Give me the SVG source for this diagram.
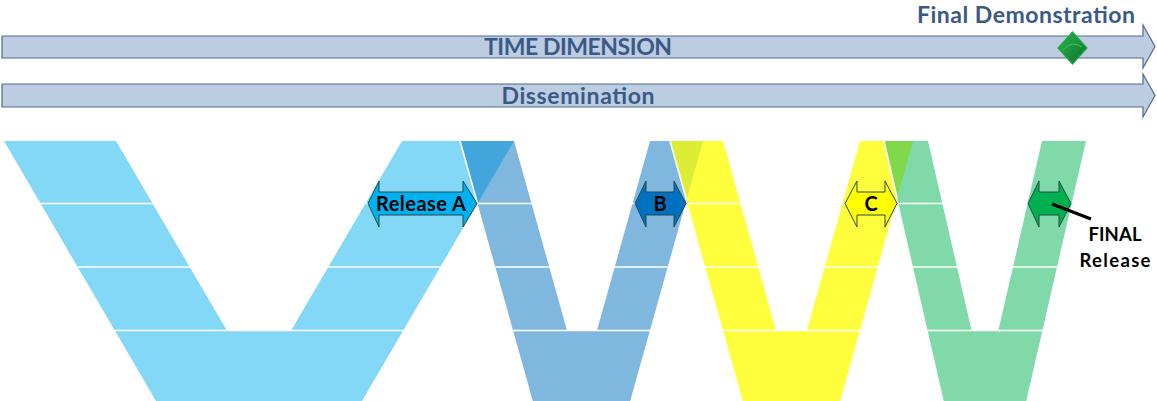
<svg xmlns="http://www.w3.org/2000/svg" width="1157" height="401" viewBox="0 0 1157 401">
<style>
.band{fill:#BCCDE1;stroke:#4F6A8E;stroke-width:1.2}
.ttl{font-family:"Lato","Liberation Sans",sans-serif;font-weight:bold;fill:#3A5A85}
.row{stroke:#FFFFFF;stroke-width:1.6}
.dbl{stroke:#264B4B;stroke-width:1}
.lbl{font-family:"Lato","Liberation Sans",sans-serif;font-weight:bold;fill:#000000;text-anchor:middle}
</style>
<defs>
<linearGradient id="dg" x1="0" y1="0" x2="1" y2="1">
<stop offset="0" stop-color="#2DB84F"/>
<stop offset="1" stop-color="#0B6E2A"/>
</linearGradient>
</defs>
<g id="time-dimension">
<polygon class="band" points="2,36 1143,36 1143,25 1155,46.5 1143,68 1143,58 2,58"/>
<text class="ttl" x="578" y="55" font-size="23" text-anchor="middle" textLength="188">TIME DIMENSION</text>
</g>
<g id="final-demonstration">
<text class="ttl" x="1026" y="23" font-size="23" text-anchor="middle" textLength="218">Final Demonstration</text>
<polygon points="1072.5,32 1087,48 1072.5,64 1058,48" fill="url(#dg)" stroke="#22A84A" stroke-width="1.2"/>
<path d="M1063,50 Q1072,40 1082,47" fill="none" stroke="#4CD06C" stroke-width="1" opacity="0.7"/>
</g>
<g id="dissemination">
<polygon class="band" points="2,84 1143,84 1143,74 1155,95.5 1143,117 1143,107 2,107"/>
<text class="ttl" x="578" y="104" font-size="23" text-anchor="middle" textLength="153">Dissemination</text>
</g>
<g id="v1">
<polygon fill="#83D7F7" points="4,141 116,141 226.6,330 291.4,330 402,141 514,141 362,401 156,401"/>
<line class="row" x1="40.6" y1="203.5" x2="477.4" y2="203.5"/>
<line class="row" x1="77.7" y1="267" x2="440.3" y2="267"/>
<line class="row" x1="114.6" y1="330.5" x2="403.4" y2="330.5"/>
</g>
<g id="v2">
<polygon fill="#80B7DF" points="460,141 514,141 566.9,330 597.1,330 650,141 703,141 630.2,401 532.8,401"/>
<polygon fill="#42A5DC" points="460,141 514,141 477.5,203.4"/>
<line class="row" x1="460" y1="141" x2="477.5" y2="203.4"/>
<line class="row" x1="477.5" y1="203.5" x2="685.5" y2="203.5"/>
<line class="row" x1="495.3" y1="267" x2="667.7" y2="267"/>
<line class="row" x1="512.9" y1="330.5" x2="650.1" y2="330.5"/>
</g>
<g id="v3">
<polygon fill="#FEFE3C" points="670,141 723,141 775.9,330 807.1,330 860,141 913,141 840.2,401 742.8,401"/>
<polygon fill="#DDED35" points="670,141 703,141 686.5,200"/>
<line class="row" x1="670" y1="141" x2="686.5" y2="200"/>
<line class="row" x1="687.5" y1="203.5" x2="895.5" y2="203.5"/>
<line class="row" x1="705.3" y1="267" x2="877.7" y2="267"/>
<line class="row" x1="722.9" y1="330.5" x2="860.1" y2="330.5"/>
</g>
<g id="v4">
<polygon fill="#80D9A9" points="884,141 928,141 971.5,330 998.5,330 1042,141 1086,141 1026.2,401 943.8,401"/>
<polygon fill="#7FD94A" points="884,141 913,141 897,198"/>
<line class="row" x1="884" y1="141" x2="897" y2="198"/>
<line class="row" x1="898.4" y1="203.5" x2="1071.6" y2="203.5"/>
<line class="row" x1="913" y1="267" x2="1057" y2="267"/>
<line class="row" x1="927.5" y1="330.5" x2="1042.5" y2="330.5"/>
</g>
<g id="release-a">
<polygon class="dbl" fill="#00B0F0" points="368,203.5 379,181 379,192 463,192 463,181 477,203.5 463,227 463,215 379,215 379,227"/>
<text class="lbl" x="421" y="211" font-size="20" textLength="90">Release A</text>
</g>
<g id="release-b">
<polygon class="dbl" fill="#0070C0" points="635,203.5 646,181 646,192 674,192 674,181 686,203.5 674,227 674,215 646,215 646,227"/>
<text class="lbl" x="660" y="211" font-size="20">B</text>
</g>
<g id="release-c">
<polygon class="dbl" fill="#FFFF00" points="845,203.5 857,181 857,192 885,192 885,181 897,203.5 885,227 885,215 857,215 857,227"/>
<text class="lbl" x="871" y="211" font-size="20">C</text>
</g>
<g id="final-release">
<polygon class="dbl" fill="#00B050" points="1028,203.5 1039,181 1039,192 1059,192 1059,181 1071,203.5 1059,227 1059,215 1039,215 1039,227"/>
<text class="lbl" x="1115" y="241" font-size="18.5" textLength="53">FINAL</text>
<text class="lbl" x="1115" y="267" font-size="18.5" textLength="71">Release</text>
</g>
<g id="connectors">
<line x1="1052" y1="204" x2="1091" y2="219" stroke="#000000" stroke-width="3"/>
</g>
</svg>
